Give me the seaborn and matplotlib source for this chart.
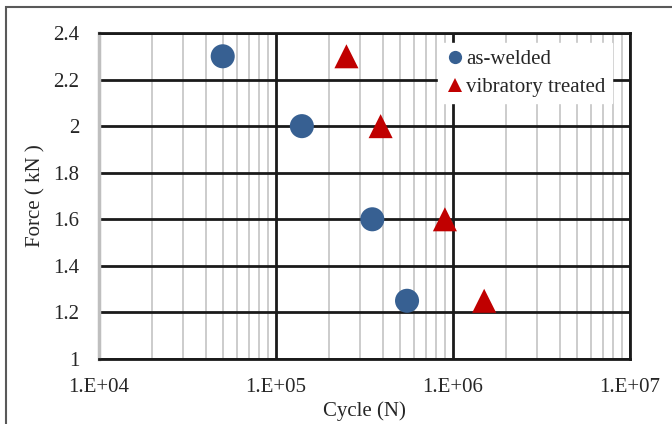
import numpy as np
import pandas as pd
import seaborn as sns
import matplotlib.pyplot as plt
from matplotlib.patches import Rectangle
from matplotlib.ticker import LogLocator, FixedLocator, NullFormatter

# data
forces = [2.3, 2.0, 1.6, 1.25]
cycles_welded = [5.0e4, 1.4e5, 3.5e5, 5.5e5]
cycles_treated = [2.5e5, 3.9e5, 9.0e5, 1.5e6]
series = ["as-welded", "vibratory treated"]
xticks = [1e4, 1e5, 1e6, 1e7]
xtick_labels = ["1.E+04", "1.E+05", "1.E+06", "1.E+07"]
yticks = [1, 1.2, 1.4, 1.6, 1.8, 2, 2.2, 2.4]
ytick_labels = ["1", "1.2", "1.4", "1.6", "1.8", "2", "2.2", "2.4"]

df = pd.DataFrame({
    "cycle": cycles_welded + cycles_treated,
    "force": forces + forces,
    "group": [series[0]] * 4 + [series[1]] * 4,
})

sns.set_style("white")
plt.rcParams["font.family"] = ["Liberation Serif", "DejaVu Serif"]

fig = plt.figure(figsize=(6.72, 4.24), dpi=100)
ax = fig.add_axes([99 / 672, 1 - 359 / 424, 531 / 672, 326 / 424])

# figure border (only left and top visible in the original)
fig.patches.append(Rectangle((6 / 672, -0.5), 2.0, 0.5 + 1 - 7 / 424,
                             transform=fig.transFigure, fill=False,
                             edgecolor="#595959", linewidth=1.5, zorder=0))

ax.set_xscale("log")
ax.set_xlim(1e4, 1e7)
ax.set_ylim(1, 2.4)

ax.xaxis.set_minor_locator(LogLocator(base=10, subs=np.arange(2, 10)))
ax.xaxis.set_minor_formatter(NullFormatter())
ax.xaxis.set_major_locator(FixedLocator(xticks))
ax.set_xticks(xticks, xtick_labels)
ax.set_yticks(yticks, ytick_labels)

ax.grid(True, which="major", axis="both", color="#1a1a1a", linewidth=2)
ax.grid(True, which="minor", axis="x", color="#c4c4c4", linewidth=1.2)
ax.set_axisbelow(True)

sns.scatterplot(data=df, x="cycle", y="force", hue="group", style="group",
                palette={series[0]: "#376092", series[1]: "#C00000"},
                markers={series[0]: "o", series[1]: "^"},
                s=300, edgecolor="none", ax=ax, zorder=3, clip_on=False)

for side in ["top", "right", "bottom"]:
    ax.spines[side].set_color("#1a1a1a")
    ax.spines[side].set_linewidth(2)
ax.spines["left"].set_color("#bfbfbf")
ax.spines["left"].set_linewidth(2.5)

ax.tick_params(axis="both", which="both", length=0, labelsize=15,
               colors="#262626")
ax.tick_params(axis="y", pad=14)
ax.tick_params(axis="x", pad=14)

ax.set_xlabel("Cycle (N)", fontsize=15, color="#262626", labelpad=3)
ax.set_ylabel("Force ( kN )", fontsize=15, color="#262626", labelpad=6)

leg = ax.legend(loc="upper right", bbox_to_anchor=(0.985, 1.0),
                frameon=True, framealpha=1, edgecolor="white",
                fancybox=False, fontsize=15, markerscale=0.55,
                handletextpad=0.05, handlelength=1.0, borderpad=0.3,
                labelspacing=0.4)
for t in leg.get_texts():
    t.set_color("#262626")

fig.savefig("out.png", dpi=100)
